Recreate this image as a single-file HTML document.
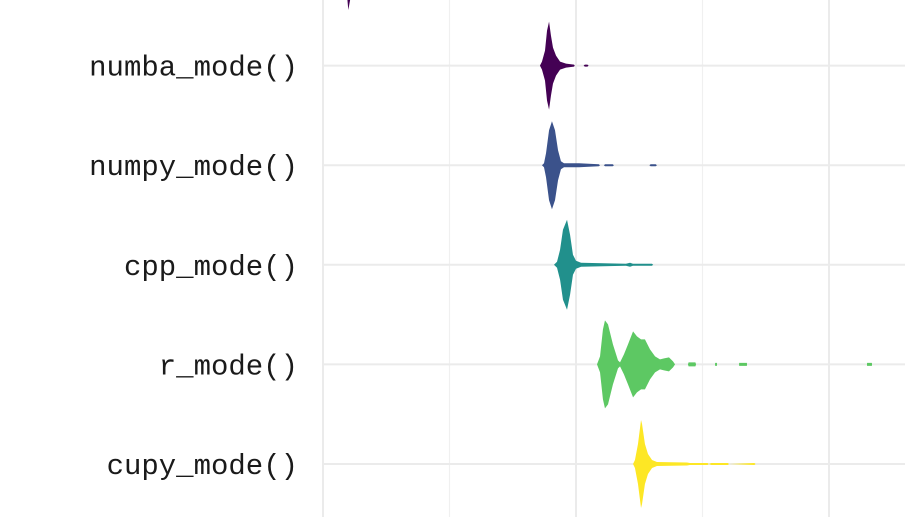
<!DOCTYPE html>
<html><head><meta charset="utf-8"><style>
html,body{margin:0;padding:0;background:#fff;}
svg{display:block;}
text{font-family:"Liberation Mono","DejaVu Sans Mono",monospace;font-size:29px;fill:#1a1a1a;}
</style></head><body>
<svg id="chart" width="918" height="517"></svg>
<script>
const categories = ["top_mode()", "numba_mode()", "numpy_mode()", "cpp_mode()", "r_mode()", "cupy_mode()"];
const colors = ["#440154", "#440154", "#3b528b", "#21908c", "#5dc863", "#fde725"];
const xMajorTicks = [0, 2, 4];
const xMinorTicks = [1, 3];
// density profiles: x positions (data units) and half-widths (density)
const xTop = [0.16, 0.18, 0.20, 0.22, 0.24, 0.27];
const dTop = [0, 15, 44, 30, 12, 0];
const xNumba = [1.715, 1.731, 1.755, 1.771, 1.787, 1.802, 1.818, 1.842, 1.874, 1.921, 1.984, 1.99, 2.06, 2.07, 2.09, 2.10];
const dNumba = [0, 4, 15, 35, 44, 30, 18, 10, 4, 2, 1, 0, 0, 1, 1, 0];
const xNumpy = [1.731, 1.747, 1.763, 1.787, 1.810, 1.834, 1.858, 1.881, 1.905, 2.024, 2.18, 2.19, 2.22, 2.23, 2.29, 2.30, 2.58, 2.59, 2.63, 2.64];
const dNumpy = [0, 2, 12, 35, 44, 35, 15, 4, 2, 2, 1, 0, 0, 1, 1, 0, 0, 1, 1, 0];
const xCpp = [1.826, 1.850, 1.874, 1.897, 1.929, 1.953, 1.976, 2.000, 2.040, 2.395, 2.427, 2.45, 2.60, 2.61];
const dCpp = [0, 3, 15, 35, 45, 30, 10, 4, 2, 1, 2, 1, 1, 0];
const xR = [2.166, 2.190, 2.213, 2.229, 2.253, 2.292, 2.332, 2.348, 2.379, 2.411, 2.451, 2.482, 2.514, 2.545, 2.585, 2.625, 2.664, 2.696, 2.735, 2.767, 2.783,
            2.885, 2.89, 2.944, 2.949, 3.099, 3.10, 3.114, 3.115, 3.289, 3.29, 3.351, 3.352, 4.300, 4.301, 4.339, 4.340];
const dR = [0, 8, 35, 44, 40, 20, 4, 2, 10, 20, 33, 28, 25, 25, 15, 8, 5, 6, 7, 3, 0,
            0, 2, 2, 0, 0, 1.5, 1.5, 0, 0, 1.5, 1.5, 0, 0, 1.5, 1.5, 0];
const xCupy = [2.451, 2.466, 2.490, 2.514, 2.522, 2.545, 2.569, 2.601, 2.640, 2.877, 2.90, 3.04, 3.05, 3.07, 3.20, 3.21, 3.41, 3.42];
const dCupy = [0, 4, 20, 44, 40, 20, 10, 4, 2, 1.5, 1, 1, 0, 1, 1, 0, 1, 0];
const seriesX = [xTop, xNumba, xNumpy, xCpp, xR, xCupy];
const seriesD = [dTop, dNumba, dNumpy, dCpp, dR, dCupy];

const svg = document.getElementById('chart');
const NS = 'http://www.w3.org/2000/svg';
const x0 = 323, xUnit = 126.5;
function xScale(v){ return x0 + v * xUnit; }
function yScale(i){ return -34 + i * 99.6; }
function dScale(d){ return d; }

function mk(tag, attrs){ const e = document.createElementNS(NS, tag); for (const k in attrs) e.setAttribute(k, attrs[k]); svg.appendChild(e); return e; }

xMinorTicks.forEach(t => {
  const l = mk('line', {x1: xScale(t), x2: xScale(t), y1: 0, y2: 517, stroke: '#f0f0f0', 'stroke-width': 1.2});
  
  
});
xMajorTicks.forEach(t => {
  const l = mk('line', {x1: xScale(t), x2: xScale(t), y1: 0, y2: 517, stroke: '#ebebeb', 'stroke-width': 2});
  
  
});
categories.forEach((c, i) => {
  const y = yScale(i);
  const g = mk('line', {x1: 323, x2: 905, y1: y, y2: y, stroke: '#ebebeb', 'stroke-width': 2});
  
  
  if (i > 0) {
    const t = mk('text', {x: 298, y: y + 10, 'text-anchor': 'end'});
    t.textContent = c;
    
    
  }
});
seriesX.forEach((xs, i) => {
  const ds = seriesD[i], cy = yScale(i);
  const top = xs.map((v, j) => xScale(v) + ',' + (cy - dScale(ds[j])));
  const bot = xs.map((v, j) => xScale(v) + ',' + (cy + dScale(ds[j]))).reverse();
  const p = mk('polygon', {points: top.concat(bot).join(' '), fill: colors[i], stroke: 'none'});
  
  
});
</script>
</body></html>
